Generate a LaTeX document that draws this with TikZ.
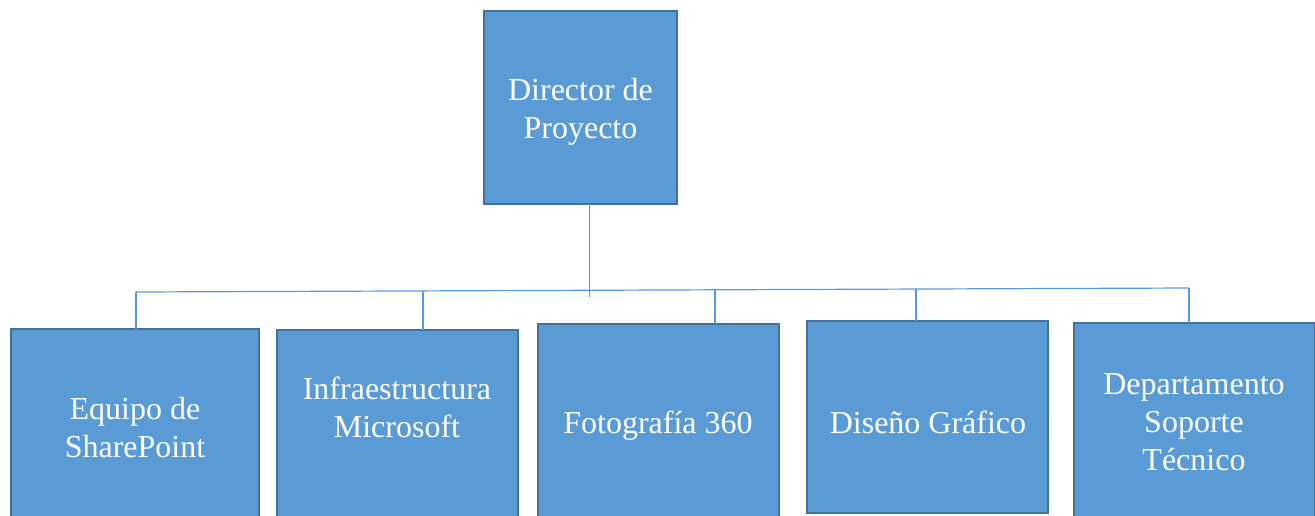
\documentclass[tikz,border=0pt]{standalone}
\usepackage{fontspec}
\setmainfont{Liberation Serif}
\definecolor{boxfill}{HTML}{5B9BD5}
\definecolor{boxline}{HTML}{41719C}
\definecolor{connline}{HTML}{5B9BD5}
\begin{document}
\begin{tikzpicture}[x=0.75pt,y=-0.75pt,
  box/.style={draw=boxline,fill=boxfill,line width=1.8pt,inner sep=0pt,outer sep=0pt},
  lbl/.style={text=white,align=center,font=\fontsize{24pt}{28.5pt}\selectfont,inner sep=0pt},
  conn/.style={draw=connline,line width=0.9pt}]
\useasboundingbox (0,0) rectangle (1315,515);
\clip (0,0) rectangle (1315,515);
% boxes
\node[box,minimum width=144.75pt,minimum height=144.75pt] (top) at (580.5,107.5) {};
\node[box,minimum width=186pt,minimum height=158.25pt] (b1) at (135,434.5) {};
\node[box,minimum width=180.75pt,minimum height=157.5pt] (b2) at (397.5,435) {};
\node[box,minimum width=180.75pt,minimum height=162pt] (b3) at (658.5,432) {};
\node[box,minimum width=180.75pt,minimum height=144pt] (b4) at (927.5,417) {};
\node[box,minimum width=180.75pt,minimum height=162.75pt] (b5) at (1194.5,431.5) {};
% labels
\node[lbl] (t0) at (580.5,112) {Director de\\Proyecto};
\node[lbl] (t1) at (135,428) {Equipo de\\SharePoint};
\node[lbl] (t2) at (397,407) {Infraestructura\\Microsoft};
\node[lbl] (t3) at (658,426) {Fotografía 360};
\node[lbl] (t4) at (928,422) {Diseño Gráfico};
\node[lbl] (t5) at (1194,422) {Departamento\\Soporte\\Técnico};
% bus coordinates
\coordinate (j0) at (589.5,297);
\coordinate (c1) at (136,292);
\coordinate (c2) at (423,290.9);
\coordinate (c3) at (715,289.8);
\coordinate (c4) at (916,289);
\coordinate (c5) at (1189,288);
% connectors
\draw[conn] (top.south -| j0) -- (j0);
\draw[conn] (c1) -- (c5);
\draw[conn] (c1) -- (b1.north -| c1);
\draw[conn] (c2) -- (b2.north -| c2);
\draw[conn] (c3) -- (b3.north -| c3);
\draw[conn] (c4) -- (b4.north -| c4);
\draw[conn] (c5) -- (b5.north -| c5);
\end{tikzpicture}
\end{document}
